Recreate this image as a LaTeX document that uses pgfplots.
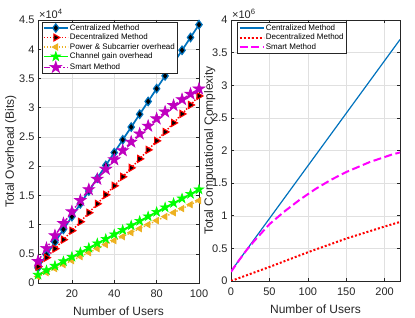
\documentclass[border=0pt]{standalone}
\usepackage{pgfplots}
\pgfplotsset{compat=1.18}
\usepackage{pgfplotstable}
\usepackage{fontspec}
\setmainfont{Liberation Sans}
\definecolor{mblue}{rgb}{0,0.447,0.741}
\definecolor{morange}{rgb}{0.929,0.694,0.125}
\definecolor{mpurple}{rgb}{0.75,0,0.75}
\definecolor{mmag}{rgb}{1,0,1}
\definecolor{axgray}{rgb}{0.15,0.15,0.15}
\definecolor{gridgray}{rgb}{0.88,0.88,0.88}

\pgfdeclareplotmark{pentagram}{%
  \pgfpathmoveto{\pgfqpointpolar{90}{\pgfplotmarksize}}%
  \pgfpathlineto{\pgfqpointpolar{126}{0.382\pgfplotmarksize}}%
  \pgfpathlineto{\pgfqpointpolar{162}{\pgfplotmarksize}}%
  \pgfpathlineto{\pgfqpointpolar{198}{0.382\pgfplotmarksize}}%
  \pgfpathlineto{\pgfqpointpolar{234}{\pgfplotmarksize}}%
  \pgfpathlineto{\pgfqpointpolar{270}{0.382\pgfplotmarksize}}%
  \pgfpathlineto{\pgfqpointpolar{306}{\pgfplotmarksize}}%
  \pgfpathlineto{\pgfqpointpolar{342}{0.382\pgfplotmarksize}}%
  \pgfpathlineto{\pgfqpointpolar{18}{\pgfplotmarksize}}%
  \pgfpathlineto{\pgfqpointpolar{54}{0.382\pgfplotmarksize}}%
  \pgfpathclose
  \pgfusepathqfillstroke
}

\pgfplotstableread{
x cen dec pow chg smart
5 2600 2800 1100 1400 3700
10 4790 4340 1780 2170 5940
15 6980 5870 2470 2940 8100
20 9170 7410 3150 3710 10190
25 11360 8950 3840 4470 12200
30 13550 10480 4520 5240 14130
35 15740 12020 5200 6010 15990
40 17930 13550 5890 6780 17770
45 20120 15090 6570 7550 19470
50 22310 16630 7260 8320 21100
55 24500 18170 7940 9080 22660
60 26680 19700 8620 9850 24130
65 28870 21240 9310 10620 25530
70 31060 22780 9990 11390 26860
75 33250 24320 10680 12160 28110
80 35440 25850 11360 12930 29280
85 37630 27390 12040 13690 30380
90 39820 28930 12730 14460 31400
95 42010 30460 13410 15230 32340
100 44200 32000 14100 16000 33210
}\overhead

\pgfplotstableread{
x y
0 150000
50 956800
100 1763600
150 2570400
200 3377200
220 3700000
}\compcen

\pgfplotstableread{
x y
0 0
50 215000
100 440000
150 650000
200 835000
220 905000
}\compdec

\pgfplotstableread{
x y
0 140000
10 310000
20 470000
30 610000
40 740000
50 870000
60 970000
70 1070000
80 1160000
90 1250000
100 1330000
110 1410000
120 1480000
130 1550000
140 1610000
150 1670000
160 1720000
170 1770000
180 1820000
190 1860000
200 1900000
210 1940000
220 1970000
}\compsmart

\pgfplotsset{
  mstyle/.style={
    scale only axis, anchor=south west,
    axis line style={axgray, line width=0.5pt},
    tick style={axgray, line width=0.5pt},
    tick align=inside, major tick length=2.6pt,
    grid=major, grid style={gridgray, line width=0.4pt},
    ticklabel style={font=\fontsize{11}{11}\selectfont, text=axgray},
    xticklabel shift=3pt,
    label style={font=\fontsize{12}{12}\selectfont, text=axgray},
    xlabel shift=3pt,
    /pgf/number format/assume math mode=true,
    legend cell align=left,
    legend style={font=\fontsize{8}{9}\selectfont, draw=axgray, line width=0.5pt,
      inner sep=1pt, row sep=-0.4pt,
      nodes={inner sep=1.3pt}},
    legend image code/.code={\draw[mark repeat=2,mark phase=2,##1] plot coordinates {(0pt,0pt) (12pt,0pt) (24pt,0pt)};},
    every y tick scale label/.style={at={(0,1)}, anchor=south west, inner sep=1pt, font=\fontsize{11}{11}\selectfont, text=axgray},
  }
}

\begin{document}
\begin{tikzpicture}
\useasboundingbox (0pt,0pt) rectangle (415pt,318pt);
\begin{axis}[mstyle, at={(38pt,35pt)}, width=161pt, height=263pt,
  xmin=5, xmax=100, ymin=0, ymax=45000,
  xtick={25,50,75,100}, xticklabels={20,40,80,100},
  ytick={0,5000,...,45000},
  scaled y ticks=base 10:-4,
  ytick scale label code/.code={×10\textsuperscript{4}},
  xlabel={Number of Users}, ylabel={Total Overhead (Bits)},
  ylabel shift=-4pt,
  legend style={at={(0.023,0.993)}, anchor=north west},
]
\addplot[mblue, line width=1.7pt, mark=diamond*, mark size=4.2pt,
  mark options={fill=black, draw=mblue, line width=1.2pt}] table[x=x,y=cen] {\overhead};
\addlegendentry{Centralized Method}
\addplot[red, line width=1.4pt, dash pattern=on 1.4pt off 1.6pt, mark=triangle*, mark size=4pt,
  mark options={solid, rotate=-90, fill=black, draw=red, line width=1.1pt}] table[x=x,y=dec] {\overhead};
\addlegendentry{Decentralized Method}
\addplot[morange, line width=1.4pt, dash pattern=on 1.4pt off 1.6pt, mark=triangle*, mark size=3.6pt,
  mark options={solid, rotate=90, fill=morange, draw=morange, line width=0.8pt}] table[x=x,y=pow] {\overhead};
\addlegendentry{Power \& Subcarrier overhead}
\addplot[green, line width=1.5pt, mark=pentagram, mark size=5pt,
  mark options={solid, fill=green, draw=green, line width=0.6pt}] table[x=x,y=chg] {\overhead};
\addlegendentry{Channel gain overhead}
\addplot[mpurple, line width=1.5pt, dash pattern=on 6pt off 2pt on 1.5pt off 2pt, mark=pentagram, mark size=6.2pt,
  mark options={solid, fill=mpurple, draw=mpurple, line width=0.6pt}] table[x=x,y=smart] {\overhead};
\addlegendentry{Smart Method}
\end{axis}

\begin{axis}[mstyle, at={(231pt,37pt)}, width=169pt, height=261pt,
  xmin=0, xmax=220, ymin=0, ymax=4000000,
  xtick={0,50,100,150,200},
  ytick={0,500000,...,4000000},
  scaled y ticks=base 10:-6,
  ytick scale label code/.code={×10\textsuperscript{6}},
  xlabel={Number of Users}, ylabel={Total Computational Complexity},
  ylabel shift=-10pt,
  legend style={at={(0.037,0.993)}, anchor=north west},
]
\addplot[mblue, line width=1.2pt] table[x=x,y=y] {\compcen};
\addlegendentry{Centralized Method}
\addplot[red, line width=2pt, dash pattern=on 2pt off 2pt] table[x=x,y=y] {\compdec};
\addlegendentry{Decentralized Method}
\addplot[mmag, line width=2pt, dash pattern=on 8pt off 3.5pt] table[x=x,y=y] {\compsmart};
\addlegendentry{Smart Method}
\end{axis}
\end{tikzpicture}
\end{document}
